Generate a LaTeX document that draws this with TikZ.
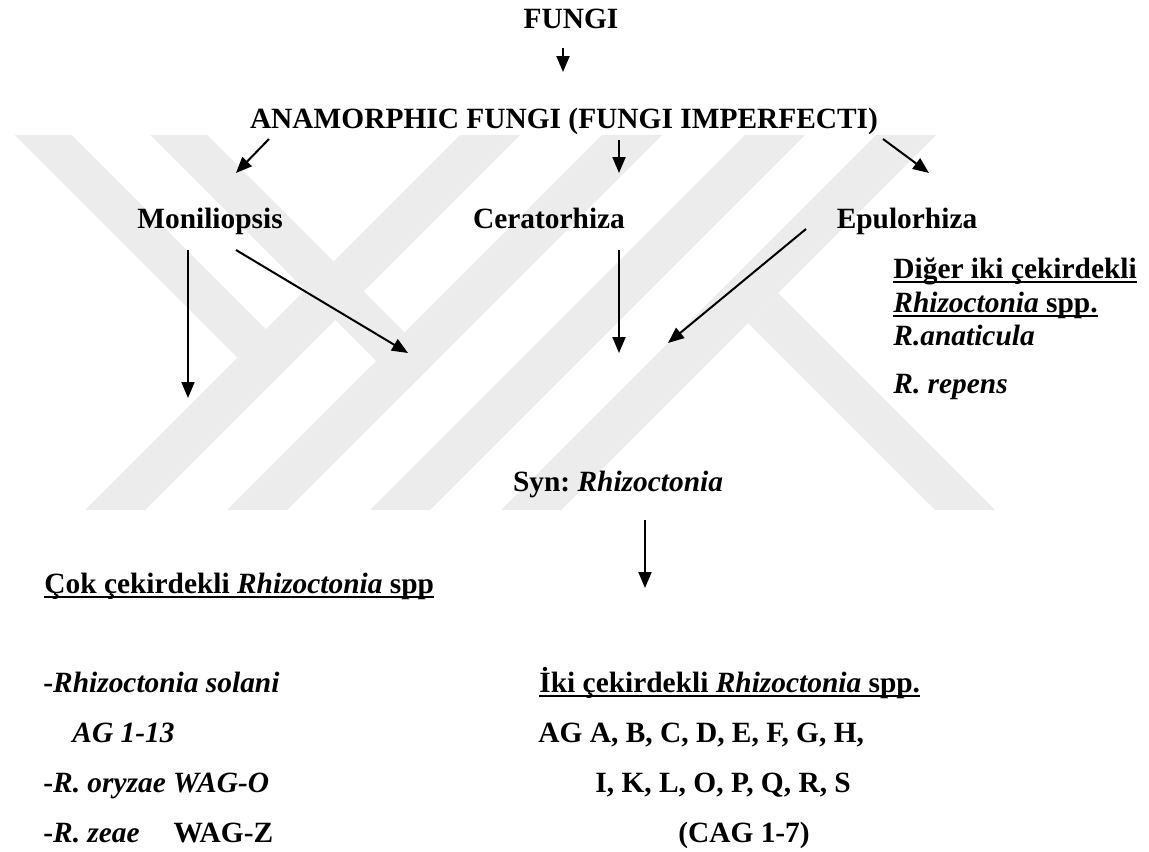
\documentclass[tikz,border=0pt]{standalone}
\usepackage{fontspec}
\setmainfont{Liberation Serif}
\usetikzlibrary{arrows.meta}

% bold underline of the thesis figure
\newcommand{\ulbf}[1]{\setbox0\hbox{#1}\rlap{\rule[-2.6pt]{\wd0}{1.1pt}}\box0}

\definecolor{wmgray}{RGB}{236,236,236}

\tikzset{
    txt/.style={inner sep=0pt, anchor=base, font=\fontsize{14.7}{17}\selectfont\bfseries\frenchspacing},
    txtl/.style={txt, anchor=base west},
    arr/.style={-{Triangle[length=8pt,width=6.5pt]}, line width=1pt},
    band/.style={fill=wmgray, draw=none}
}

\begin{document}
\begin{tikzpicture}[x=0.5pt, y=-0.5pt]
        \useasboundingbox (0,0) rectangle (1149,851);

        % Watermark in the background
        \begin{scope}
            \clip (0,135) rectangle (1149,510);
            \fill[band] (85,510) -- (145,510) -- (520,135) -- (460,135) -- cycle;
            \fill[band] (227,510) -- (287,510) -- (662,135) -- (602,135) -- cycle;
            \fill[band] (370,510) -- (430,510) -- (805,135) -- (745,135) -- cycle;
            \fill[band] (501,510) -- (561,510) -- (936,135) -- (876,135) -- cycle;
            \fill[band] (15,135) -- (72,135) -- (296,359) -- (267.5,387.5) -- cycle;
            \fill[band] (150,135) -- (207,135) -- (434.5,362.5) -- (406,391) -- cycle;
            \fill[band] (935,510) -- (995,510) -- (778,293) -- (748,323) -- cycle;
        \end{scope}

        % Top of the tree
        \node[txt] (fungi) at (571,28) {FUNGI};
        \node[txt] (anam) at (564,128) {ANAMORPHIC FUNGI (FUNGI IMPERFECTI)};
        \coordinate (anamtip) at (563,72);
        \draw[arr] ([xshift=-4pt, yshift=-10pt]fungi.base) -- (anamtip);

        % Three genera
        \node[txt] (monil) at (210,228) {Moniliopsis};
        \node[txt] (cerat) at (549,228) {Ceratorhiza};
        \node[txt] (epul) at (907,228) {Epulorhiza};
        \coordinate (moniltip) at (236,173);
        \coordinate (cerattip) at (619,173);
        \coordinate (epultip) at (929,173);
        \draw[arr] ([xshift=-147.5pt, yshift=-5.5pt]anam.base) -- (moniltip);
        \draw[arr] ([xshift=27.5pt, yshift=-6pt]anam.base) -- (cerattip);
        \draw[arr] ([xshift=159.5pt, yshift=-5.5pt]anam.base) -- (epultip);

        % Arrows towards Rhizoctonia
        \coordinate (multitip) at (188,398);
        \coordinate (bitipa) at (408,353);
        \coordinate (bitipb) at (619,353);
        \coordinate (bitipc) at (668,343);
        \draw[arr] ([xshift=-11pt, yshift=-11pt]monil.base) -- (multitip);
        \draw[arr] ([xshift=13pt, yshift=-11pt]monil.base) -- (bitipa);
        \draw[arr] ([xshift=35pt, yshift=-11pt]cerat.base) -- (bitipb);
        \draw[arr] ([xshift=-50.5pt, yshift=-0.5pt]epul.base) -- (bitipc);

        % Other binucleate group
        \node[txtl] (diger) at (893,278) {\ulbf{Diğer iki çekirdekli}};
        \node[txtl] (digerspp) at (893,312) {\ulbf{\textit{Rhizoctonia} spp.}};
        \node[txtl] (anat) at (893,345) {\textit{R.anaticula}};
        \node[txtl] (repens) at (893,393) {\textit{R. repens}};

        % Synonym
        \node[txt] (syn) at (618,491) {Syn: \textit{Rhizoctonia}};
        \coordinate (syntip) at (645,588);
        \draw[arr] ([xshift=13.5pt, yshift=-14.5pt]syn.base) -- (syntip);

        % Multinucleate
        \node[txtl] (cok) at (44,593) {\ulbf{Çok çekirdekli \textit{Rhizoctonia} spp}};
        \node[txtl] (solani) at (43,692) {-\textit{Rhizoctonia solani}};
        \node[txtl] (ag) at (72,742) {\textit{AG 1-13}};
        \node[txtl] (oryzae) at (43,792) {-\textit{R. oryzae WAG-O}};
        \node[txtl] (zeae) at (43,842) {-\textit{R. zeae}\hspace{0.9em} WAG-Z};

        % Binucleate
        \node[txtl] (iki) at (539,692) {\ulbf{İki çekirdekli \textit{Rhizoctonia} spp.}};
        \node[txtl] (aga) at (538,742) {AG A, B, C, D, E, F, G, H,};
        \node[txtl] (agi) at (595,792) {I, K, L, O, P, Q, R, S};
        \node[txt] (cag) at (744,842) {(CAG 1-7)};
    \end{tikzpicture}
\end{document}
